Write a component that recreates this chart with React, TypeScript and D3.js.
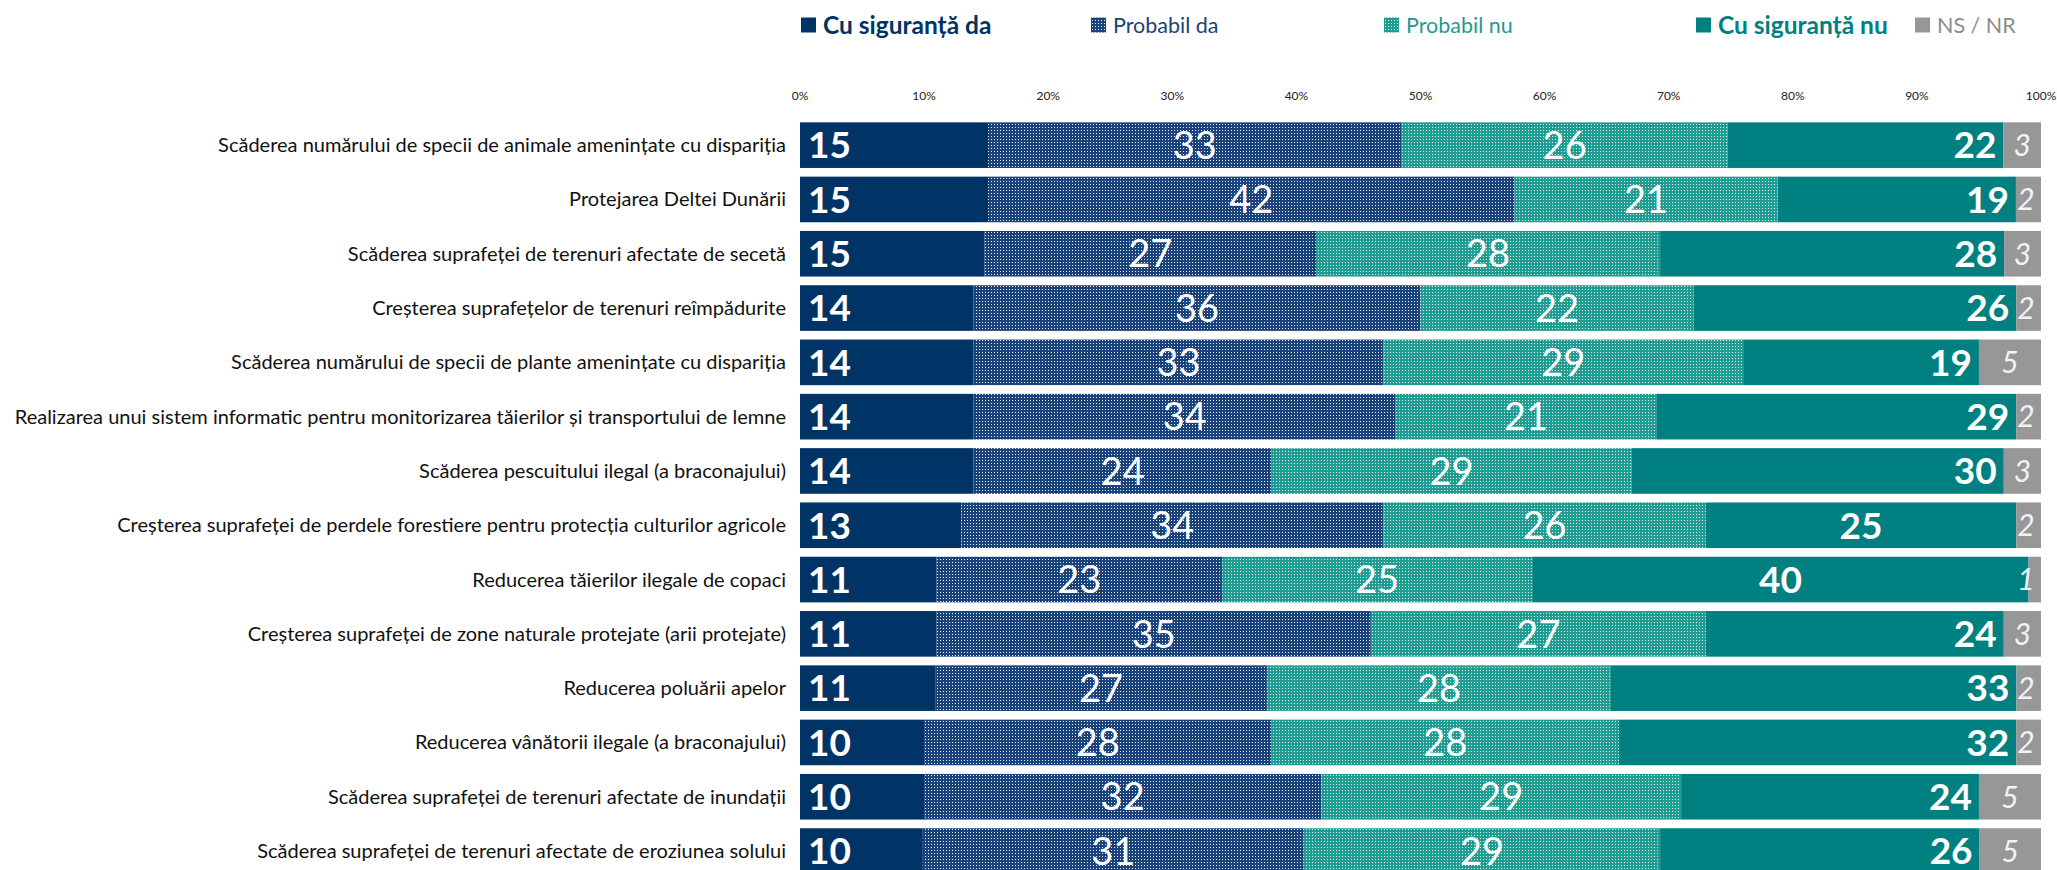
import React from "react";
import * as d3 from "d3";

// categories (top to bottom)
const categories = [
  "Scăderea numărului de specii de animale amenințate cu dispariția",
  "Protejarea Deltei Dunării",
  "Scăderea suprafeței de terenuri afectate de secetă",
  "Creșterea suprafețelor de terenuri reîmpădurite",
  "Scăderea numărului de specii de plante amenințate cu dispariția",
  "Realizarea unui sistem informatic pentru monitorizarea tăierilor și transportului de lemne",
  "Scăderea pescuitului ilegal (a braconajului)",
  "Creșterea suprafeței de perdele forestiere pentru protecția culturilor agricole",
  "Reducerea tăierilor ilegale de copaci",
  "Creșterea suprafeței de zone naturale protejate (arii protejate)",
  "Reducerea poluării apelor ",
  "Reducerea vânătorii ilegale (a braconajului)",
  "Scăderea suprafeței de terenuri afectate de inundații",
  "Scăderea suprafeței de terenuri afectate de eroziunea solului",
];

// series values (%)
const sigurDa = [15, 15, 15, 14, 14, 14, 14, 13, 11, 11, 11, 10, 10, 10];
const probabilDa = [33, 42, 27, 36, 33, 34, 24, 34, 23, 35, 27, 28, 32, 31];
const probabilNu = [26, 21, 28, 22, 29, 21, 29, 26, 25, 27, 28, 28, 29, 29];
const sigurNu = [22, 19, 28, 26, 19, 29, 30, 25, 40, 24, 33, 32, 24, 26];
const nsNr = [3, 2, 3, 2, 5, 2, 3, 2, 1, 3, 2, 2, 5, 5];

const seriesNames = ["Cu siguranță da", "Probabil da", "Probabil nu", "Cu siguranță nu", "NS / NR"];
const tickValues = [0, 0.1, 0.2, 0.3, 0.4, 0.5, 0.6, 0.7, 0.8, 0.9, 1];

// rows where the "Cu siguranță nu" label sits in the middle of its segment
const centeredNuRows = [
  "Creșterea suprafeței de perdele forestiere pentru protecția culturilor agricole",
  "Reducerea tăierilor ilegale de copaci",
];

const W = 2057;
const H = 870;
const FONT = "Lato, 'Open Sans', sans-serif";

const keys = ["da", "pda", "pnu", "nu", "ns"];
const fills = ["#003366", "url(#patDa)", "url(#patNu)", "#008080", "#979797"];
const legendColors = ["#003366", "#1f4176", "#1f9a90", "#008080", "#8c8c8c"];

export default function App() {
  const rows = categories.map((c, i) => ({
    cat: c,
    da: sigurDa[i],
    pda: probabilDa[i],
    pnu: probabilNu[i],
    nu: sigurNu[i],
    ns: nsNr[i],
  }));

  const stack = d3.stack<any>().keys(keys).offset(d3.stackOffsetExpand);
  const series = stack(rows);

  const x = d3.scaleLinear().domain([0, 1]).range([800, 2041]);
  const y = d3
    .scaleBand()
    .domain(categories)
    .range([118, 118 + 54.3 * categories.length])
    .paddingInner(0.16)
    .paddingOuter(0.08);
  const bw = y.bandwidth();

  const legendX = [801, 1091, 1384, 1696, 1915];

  return (
    <svg
      width={W}
      height={H}
      style={{ position: "absolute", left: 0, top: 0, background: "#fff" }}
      fontFamily={FONT}
    >
      <defs>
        <pattern id="patDa" width={3} height={3} patternUnits="userSpaceOnUse">
          <rect width={3} height={3} fill="#1a427c" />
          <rect x={1} y={1} width={1} height={1} fill="#eef2f8" />
        </pattern>
        <pattern id="patNu" width={3} height={3} patternUnits="userSpaceOnUse">
          <rect width={3} height={3} fill="#1f9d93" />
          <rect x={1} y={1} width={1} height={1} fill="#f2faf9" />
        </pattern>
      </defs>

      {/* legend */}
      {seriesNames.map((name, i) => (
        <g key={name} transform={`translate(${legendX[i]},25)`}>
          <rect x={0} y={-7.5} width={15} height={15} fill={fills[i]} />
          <text
            x={22}
            dy="0.35em"
            fontSize={i === 0 || i === 3 ? 24.5 : 21.5}
            fontWeight={i === 0 || i === 3 ? 700 : 400}
            fill={legendColors[i]}
          >
            {name}
          </text>
        </g>
      ))}

      {/* axis ticks */}
      {tickValues.map((t) => (
        <text key={t} x={x(t)} y={96} dy="0.35em" textAnchor="middle" fontSize={12} fill="#222">
          {d3.format(".0%")(t)}
        </text>
      ))}

      {/* category labels */}
      {categories.map((c) => (
        <text key={c} x={786} y={(y(c) as number) + bw / 2} dy="0.35em" textAnchor="end" fontSize={20} fill="#111">
          {c}
        </text>
      ))}

      {/* bars */}
      {series.map((s, si) => (
        <g key={s.key}>
          {s.map((d: any) => (
            <rect
              key={d.data.cat}
              x={x(d[0])}
              y={y(d.data.cat)}
              width={x(d[1]) - x(d[0])}
              height={bw}
              fill={fills[si]}
            />
          ))}
        </g>
      ))}

      {/* value labels */}
      {series.map((s, si) => (
        <g key={"l" + s.key}>
          {s.map((d: any) => {
            const cy = (y(d.data.cat) as number) + bw / 2;
            const v = d.data[s.key];
            const x0 = x(d[0]);
            const x1 = x(d[1]);
            if (si === 0) {
              return (
                <text key={d.data.cat} x={x0 + 8} y={cy} dy="0.36em" fontSize={37} fontWeight={700} fill="#fff">
                  {v}
                </text>
              );
            }
            if (si === 3) {
              const centered = centeredNuRows.includes(d.data.cat);
              return (
                <text
                  key={d.data.cat}
                  x={centered ? (x0 + x1) / 2 : x1 - 7}
                  y={cy}
                  dy="0.36em"
                  textAnchor={centered ? "middle" : "end"}
                  fontSize={37}
                  fontWeight={700}
                  fill="#fff"
                >
                  {v}
                </text>
              );
            }
            if (si === 4) {
              return (
                <text
                  key={d.data.cat}
                  x={Math.min((x0 + x1) / 2, x(1) - 15)}
                  y={cy}
                  dy="0.36em"
                  textAnchor="middle"
                  fontSize={30}
                  fontStyle="italic"
                  fill="#f2f2f2"
                >
                  {v}
                </text>
              );
            }
            return (
              <text key={d.data.cat} x={(x0 + x1) / 2} y={cy} dy="0.36em" textAnchor="middle" fontSize={38} fill="#fff">
                {v}
              </text>
            );
          })}
        </g>
      ))}
    </svg>
  );
}
